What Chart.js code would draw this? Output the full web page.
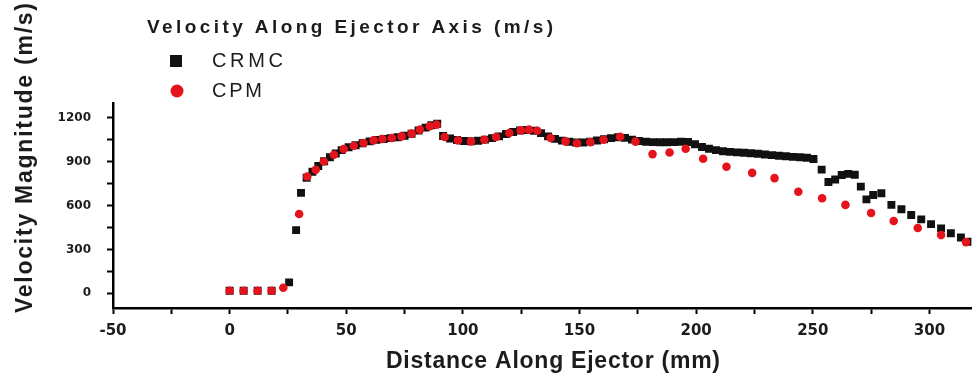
<!DOCTYPE html>
<html>
<head>
<meta charset="utf-8">
<script src="https://cdn.jsdelivr.net/npm/chart.js@4/dist/chart.umd.min.js"></script>
<style>
  html, body { margin: 0; padding: 0; background: #fff; }
  canvas { display: block; }
</style>
</head>
<body>
<canvas id="velocityChart" width="977" height="385"></canvas>
<script>
// ---- data ----
const legendTitle = 'Velocity Along Ejector Axis (m/s)';
const seriesNames = ['CRMC', 'CPM'];
const xTitle = 'Distance Along Ejector (mm)';
const yTitle = 'Velocity Magnitude (m/s)';

const xTickLabels = [-50, 0, 50, 100, 150, 200, 250, 300];
const yTickLabels = [0, 300, 600, 900, 1200];

// CRMC (black squares)
const crmcX = [0, 6, 12, 18, 25.5, 28.5, 30.6,
  33, 35.5, 38, 40.5, 43, 45.5, 48, 51, 54, 57, 60, 63, 66, 69, 72, 75, 78, 81, 84, 86.5, 89,
  91.5, 94.5, 97.5, 100.5, 103.5, 106.5, 109.5, 112.5, 115.5, 118.5, 121.5, 124.5, 127.5, 130.5,
  133.5, 136.5, 139.5, 142.5, 145.5, 148.5, 151.5, 154.5, 157.5, 160.5, 163.5, 166.5, 169.5,
  172.5, 175.5, 178.5, 181.5, 184.5, 187.5, 190.5, 193.5, 196.5, 199.5, 202.5, 205.5, 208.5,
  211.5, 214.5, 217.5, 220.5, 223.5, 226.5, 229.5, 232.5, 235.5, 238.5, 241.5, 244.5, 247.5,
  250.3, 253.8, 256.7, 259.6, 262.4, 265.2, 268, 270.6, 273, 275.9, 279.4, 283.7, 288, 292.2,
  296.5, 300.7, 305, 309.2, 313.5, 317.7];
const crmcY = [18, 18, 18, 18, 75, 432, 686,
  790, 830, 870, 902, 930, 955, 978, 998, 1012, 1025, 1038, 1048, 1054, 1060, 1066, 1076, 1090, 1112, 1132, 1148, 1158,
  1075, 1058, 1047, 1040, 1038, 1042, 1050, 1060, 1072, 1088, 1102, 1112, 1116, 1110,
  1094, 1072, 1055, 1043, 1035, 1030, 1030, 1036, 1044, 1052, 1060, 1066, 1062,
  1050, 1040, 1035, 1033, 1032, 1032, 1033, 1035, 1034, 1018, 1000, 988, 978,
  971, 966, 963, 960, 957, 953, 948, 944, 940, 936, 932, 929, 926,
  917, 845, 760, 778, 808, 816, 810, 729, 642, 672, 684, 604, 574, 535,
  505, 473, 444, 410, 382, 352];

// CPM (red circles)
const cpmX = [0, 6, 12, 18, 23, 29.8, 33.3, 36.9, 40.4, 44.7, 48.9, 53.2, 57.4, 61.7, 65.5, 69.5,
  73.7, 78, 81.6, 85.8, 88.7, 92.2, 97.9, 103.5, 109.2, 114.2, 119.9, 124.8, 128.3, 131.9, 137.6,
  144, 148.9, 154.6, 160.3, 167.4, 174, 181.3, 188.6, 195.5, 203, 213, 224, 233.6, 243.8, 254,
  264, 275, 284.7, 295, 305, 315.7];
const cpmY = [18, 18, 18, 18, 38, 542, 798, 844, 901, 947, 986, 1008, 1027, 1045, 1054, 1061,
  1072, 1091, 1118, 1141, 1152, 1068, 1045, 1038, 1049, 1068, 1095, 1113, 1118, 1110, 1061,
  1038, 1025, 1033, 1049, 1070, 1036, 951, 962, 988, 919, 865, 823, 787, 694, 650,
  604, 549, 494, 446, 398, 350];

const toPoints = (xs, ys) => xs.map((x, i) => ({ x: x, y: ys[i] }));

const RED = '#e5141c';
const BLACK = '#111111';
const TEXT = '#1c1c1c';

// draw text stretched to a target width using letter spacing
function fitText(ctx, text, x, y, width, font) {
  ctx.font = font;
  ctx.letterSpacing = '0px';
  const w = ctx.measureText(text).width;
  const ls = (width - w) / Math.max(text.length - 1, 1);
  ctx.letterSpacing = ls + 'px';
  ctx.textAlign = 'left';
  ctx.fillText(text, x, y);
  ctx.letterSpacing = '0px';
}

const annotations = {
  id: 'annotations',
  afterDraw(chart) {
    const ctx = chart.ctx;
    ctx.save();
    ctx.fillStyle = TEXT;
    ctx.textBaseline = 'middle';

    // legend block
    fitText(ctx, legendTitle, 147, 28, 406, 'bold 19px "Liberation Sans", Arial, sans-serif');
    ctx.fillStyle = BLACK;
    ctx.fillRect(170, 55, 12, 12);
    ctx.fillStyle = RED;
    ctx.beginPath();
    ctx.arc(177, 91, 6.5, 0, Math.PI * 2);
    ctx.fill();
    ctx.fillStyle = TEXT;
    fitText(ctx, seriesNames[0], 212, 61, 71, '20px "Liberation Sans", Arial, sans-serif');
    fitText(ctx, seriesNames[1], 212, 91, 50, '20px "Liberation Sans", Arial, sans-serif');

    // axis titles
    fitText(ctx, xTitle, 386, 362, 334, 'bold 23px "Liberation Sans", Arial, sans-serif');
    ctx.translate(26, 313);
    ctx.rotate(-Math.PI / 2);
    fitText(ctx, yTitle, 0, 0, 310, 'bold 23px "Liberation Sans", Arial, sans-serif');
    ctx.restore();
  }
};

new Chart(document.getElementById('velocityChart'), {
  type: 'scatter',
  data: {
    datasets: [
      {
        label: seriesNames[1],
        data: toPoints(cpmX, cpmY),
        pointStyle: 'circle',
        pointRadius: 4.3,
        pointBorderWidth: 0,
        backgroundColor: RED,
        borderColor: RED
      },
      {
        label: seriesNames[0],
        data: toPoints(crmcX, crmcY),
        pointStyle: 'rect',
        pointRadius: 5.6,
        pointBorderWidth: 0,
        backgroundColor: BLACK,
        borderColor: BLACK
      }
    ]
  },
  options: {
    responsive: false,
    animation: false,
    layout: { padding: { top: 103, left: 0, right: 0, bottom: 0 } },
    plugins: {
      legend: { display: false },
      tooltip: { enabled: false }
    },
    scales: {
      x: {
        type: 'linear',
        min: -50,
        max: 318,
        afterFit: (scale) => { scale.height = 77; },
        border: { display: true, color: '#000', width: 2.5 },
        grid: { drawOnChartArea: false, drawTicks: true, tickLength: 6, tickColor: '#000', tickWidth: 2 },
        ticks: {
          stepSize: 25,
          includeBounds: false,
          autoSkip: false,
          maxRotation: 0,
          padding: 8,
          color: TEXT,
          font: { family: '"DejaVu Sans", sans-serif', size: 15, weight: 'bold' },
          callback: (v) => xTickLabels.includes(v) ? String(v) : ''
        }
      },
      y: {
        type: 'linear',
        min: -100,
        max: 1300,
        afterFit: (scale) => { scale.width = 113; },
        border: { display: true, color: '#000', width: 2.5 },
        grid: { drawOnChartArea: false, drawTicks: true, tickLength: 6, tickColor: '#000', tickWidth: 2 },
        ticks: {
          stepSize: 150,
          includeBounds: false,
          autoSkip: false,
          padding: 16,
          color: TEXT,
          font: { family: '"DejaVu Sans", sans-serif', size: 12, weight: 'bold' },
          callback: (v) => yTickLabels.includes(v) ? String(v) : ''
        }
      }
    }
  },
  plugins: [annotations]
});
</script>
</body>
</html>
